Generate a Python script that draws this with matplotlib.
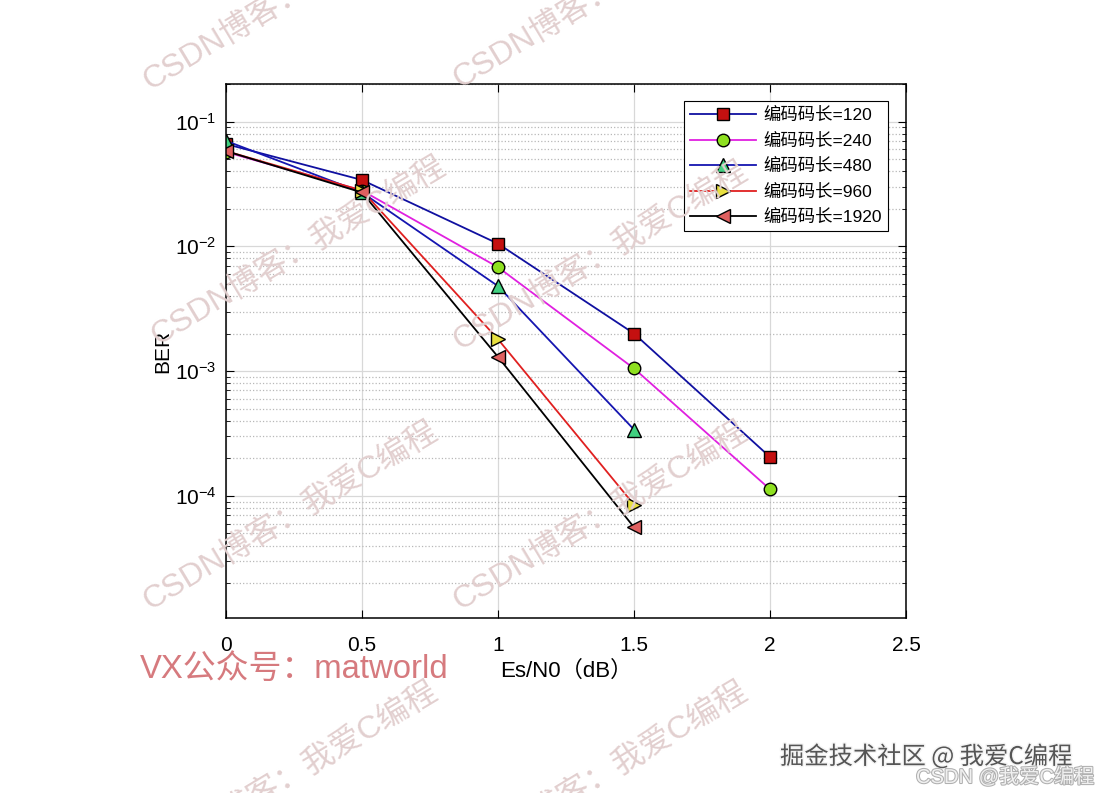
import numpy as np
import matplotlib
matplotlib.use("Agg")
import matplotlib.pyplot as plt
import matplotlib.patheffects as pe
from matplotlib.ticker import LogLocator, NullFormatter

plt.rcParams['font.family'] = ['Liberation Sans', 'Noto Sans CJK SC', 'DejaVu Sans']
plt.rcParams['mathtext.fontset'] = 'custom'
plt.rcParams['mathtext.rm'] = 'Liberation Sans'

# data
snr = [0, 0.5, 1, 1.5, 2]
ber_120 = [0.066, 0.034, 0.0105, 0.0020, 0.000205]
ber_240 = [0.057, 0.028, 0.0068, 0.00105, 0.000113]
ber_480 = [0.070, 0.027, 0.0048, 0.00034]
ber_960 = [0.058, 0.028, 0.0018, 0.000085]
ber_1920 = [0.058, 0.027, 0.0013, 0.000056]
labels = ['编码码长=120', '编码码长=240', '编码码长=480', '编码码长=960', '编码码长=1920']

fig = plt.figure(figsize=(11.02, 7.93), dpi=100)
ax = fig.add_axes([0.2051, 0.2207, 0.617, 0.6734])

ms = 9
ax.semilogy(snr, ber_120, '-s', color='#1010a0', mfc='#c41010', mec='k', ms=ms, lw=1.3, label=labels[0])
ax.semilogy(snr, ber_240, '-o', color='#e020e0', mfc='#8ee020', mec='k', ms=ms, lw=1.3, label=labels[1])
ax.semilogy(snr[:4], ber_480, '-^', color='#1515b0', mfc='#40d080', mec='k', ms=ms + 1, lw=1.3, label=labels[2])
ax.semilogy(snr[:4], ber_960, '->', color='#e02020', mfc='#e8e040', mec='k', ms=ms + 1, lw=1.3, label=labels[3])
ax.semilogy(snr[:4], ber_1920, '-<', color='k', mfc='#e06060', mec='k', ms=ms + 1, lw=1.3, label=labels[4])

ax.set_xlim(0, 2.5)
ax.set_ylim(1.05e-5, 0.2)
ax.set_xticks([0, 0.5, 1, 1.5, 2, 2.5])
ax.set_xticklabels(['0', '0.5', '1', '1.5', '2', '2.5'])
ax.yaxis.set_major_locator(LogLocator(base=10, numticks=10))
ax.yaxis.set_minor_locator(LogLocator(base=10, subs=np.arange(2, 10), numticks=20))
ax.yaxis.set_minor_formatter(NullFormatter())
ax.tick_params(which='both', direction='in', top=True, right=True, labelsize=15)
ax.tick_params(axis='x', pad=13)
ax.tick_params(axis='y', pad=7)
ax.tick_params(which='major', length=6)
ax.tick_params(which='minor', length=3)

ax.grid(which='major', color='#d8d8d8', lw=0.9)
ax.yaxis.grid(which='minor', color='#b8b8b8', ls=':', lw=0.9)
ax.set_axisbelow(True)
for s in ax.spines.values():
    s.set_linewidth(1.1)

ax.set_xlabel('Es/N0（dB）', fontsize=16, labelpad=4)
ax.set_ylabel('BER', fontsize=15, labelpad=2)

leg = ax.legend(loc='upper right', bbox_to_anchor=(0.9735, 0.968), borderaxespad=0,
                fontsize=12.5, handlelength=3.8, fancybox=False, edgecolor='k',
                framealpha=1, borderpad=0.35, labelspacing=0.55, handletextpad=0.4)
leg.get_frame().set_linewidth(0.8)

# watermarks
wm = 'CSDN博客：我爱C编程'
wm_pos = [(150, 90), (460, 88), (158, 345), (460, 350), (150, 610), (460, 610), (150, 870), (460, 870)]
for px, py in wm_pos:
    fig.text(px / 1102, 1 - py / 793, wm, rotation=31, rotation_mode='anchor',
             ha='left', va='baseline', fontsize=23, color='#e2cfcf',
             family=['Liberation Sans', 'Noto Sans CJK SC'], zorder=10)

fig.text(140 / 1102, 1 - 678 / 793, 'VX公众号：matworld', fontsize=23.7, color='#d67a7e',
         family=['Liberation Sans', 'Noto Sans CJK SC'], ha='left', va='baseline')
fig.text(780 / 1102, 1 - 764 / 793, '掘金技术社区 @ 我爱C编程', fontsize=17.5, color='#555555',
         family=['Noto Sans CJK SC', 'DejaVu Sans'], ha='left', va='baseline',
         path_effects=[pe.withStroke(linewidth=2, foreground='#f4f4f4')])
fig.text(916 / 1102, 1 - 783 / 793, 'CSDN @我爱C编程', fontsize=14.5, color='#f0f0f0',
         family=['Liberation Sans', 'Noto Sans CJK SC'], ha='left', va='baseline',
         path_effects=[pe.withStroke(linewidth=1.5, foreground='#b0b0b0')])

fig.savefig('out.png', dpi=100)
